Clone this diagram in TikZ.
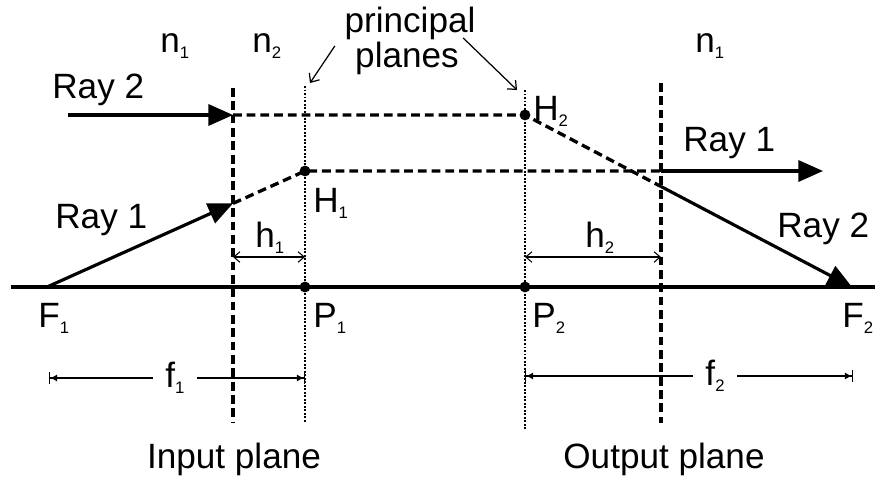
\documentclass[tikz,border=0pt]{standalone}
\usepackage{fontspec}
\setmainfont{Liberation Sans}
\usetikzlibrary{arrows.meta,calc}

% lowered small index, as in n1, H2, f1
\newcommand{\lo}[1]{\raisebox{-3.5pt}{\fontsize{9.5}{10}\selectfont #1}}

\begin{document}
\begin{tikzpicture}[x=0.02cm, y=-0.02cm,
    lbl/.style={anchor=base west, inner sep=0pt, font=\fontsize{20}{22}\selectfont},
    ray/.style={line width=1.8pt},
    rayarrow/.style={ray, -{Triangle[length=14pt,width=12pt]}},
    virt/.style={line width=1.9pt, dash pattern=on 5pt off 2.8pt},
    refplane/.style={line width=2pt, dash pattern=on 5pt off 2.6pt},
    pplane/.style={line width=0.8pt, dash pattern=on 1.1pt off 0.9pt},
    dim/.style={line width=0.6pt, {Straight Barb[length=3.5pt,width=6pt]}-{Straight Barb[length=3.5pt,width=6pt]}},
    pointer/.style={line width=0.7pt, -{Straight Barb[length=4pt,width=7pt]}},
    focalstart/.style={line width=0.6pt, {Bar[width=7pt]Latex[length=4pt,width=4pt]}-},
    focalend/.style={line width=0.6pt, -{Latex[length=4pt,width=4pt]Bar[width=7pt]}},
    dot/.style={circle, fill, inner sep=0pt, minimum size=6.2pt}]

    \useasboundingbox (0,0) rectangle (875,477);

    % key points
    \coordinate (F1) at (47,287);
    \coordinate (P1) at (305,287);
    \coordinate (P2) at (525,287);
    \coordinate (F2) at (852,287);
    \coordinate (H1) at (305,171);
    \coordinate (H2) at (525,115);
    \coordinate (in1) at (233,203.4);
    \coordinate (in2) at (233,115);
    \coordinate (out1) at (661,171);
    \coordinate (out2) at (661,186.5);

    % input / output planes and principal planes
    \draw[refplane] (233,88) -- (233,423);
    \draw[refplane] (661,83) -- (661,423);
    \draw[pplane] (305,86) -- (305,423);
    \draw[pplane] (525,90) -- (525,429);

    % optical axis
    \draw[ray] (11,287) -- (875,287);

    % Ray 2
    \draw[rayarrow] (68,115) -- (in2);
    \draw[virt] (in2) -- (H2) -- (out2);
    \draw[rayarrow] (out2) -- (F2);

    % Ray 1
    \draw[rayarrow] (F1) -- (in1);
    \draw[virt] (in1) -- (H1) -- (out1);
    \draw[rayarrow] (out1) -- (823,171);

    \node[dot] (dH1) at (H1) {};
    \node[dot] (dH2) at (H2) {};
    \node[dot] (dP1) at (P1) {};
    \node[dot] (dP2) at (P2) {};

    % media
    \node[lbl] (na) at (160,52) {n\lo{1}};
    \node[lbl] (nb) at (252,52) {n\lo{2}};
    \node[lbl] (nc) at (695,52) {n\lo{1}};

    % principal planes
    \node[lbl, anchor=base] (pp1) at (410,32) {principal};
    \node[lbl, anchor=base] (pp2) at (407,67) {planes};
    \coordinate (tipa) at (310,83);
    \coordinate (tipb) at (517,90);
    \draw[pointer] ($(pp2.west)+(-20,-12)$) -- (tipa);
    \draw[pointer] ($(pp2.east)+(4,-20)$) -- (tipb);

    % ray labels
    \node[lbl] (r2a) at (52,98) {Ray 2};
    \node[lbl] (r1a) at (55,228) {Ray 1};
    \node[lbl] (r1b) at (683,151) {Ray 1};
    \node[lbl] (r2b) at (777,237) {Ray 2};

    % points
    \node[lbl] (lH1) at (313,212) {H\lo{1}};
    \node[lbl] (lH2) at (533,120) {H\lo{2}};
    \node[lbl] (lF1) at (38,327) {F\lo{1}};
    \node[lbl] (lP1) at (313,327) {P\lo{1}};
    \node[lbl] (lP2) at (532,327) {P\lo{2}};
    \node[lbl] (lF2) at (842,327) {F\lo{2}};

    % h1, h2
    \coordinate (h1a) at (233,257);
    \coordinate (h1b) at (305,257);
    \coordinate (h2a) at (525,257);
    \coordinate (h2b) at (661,257);
    \draw[dim] (h1a) -- (h1b);
    \draw[dim] (h2a) -- (h2b);
    \node[lbl] (lh1) at (255,247) {h\lo{1}};
    \node[lbl] (lh2) at (585,247) {h\lo{2}};

    % f1, f2
    \coordinate (f1a) at (49,378);
    \coordinate (f1b) at (305,378);
    \coordinate (f2a) at (525,376);
    \coordinate (f2b) at (853,376);
    \node[font=\fontsize{20}{22}\selectfont, inner xsep=7pt, inner ysep=0pt] (lf1) at (175,378) {f\lo{1}};
    \node[font=\fontsize{20}{22}\selectfont, inner xsep=7pt, inner ysep=0pt] (lf2) at (715,376) {f\lo{2}};
    \draw[focalstart] (f1a) -- (lf1);
    \draw[focalend] (lf1) -- (f1b);
    \draw[focalstart] (f2a) -- (lf2);
    \draw[focalend] (lf2) -- (f2b);

    % planes
    \node[lbl, anchor=base] (inp) at (234,468) {Input plane};
    \node[lbl, anchor=base] (outp) at (664,468) {Output plane};
\end{tikzpicture}
\end{document}
